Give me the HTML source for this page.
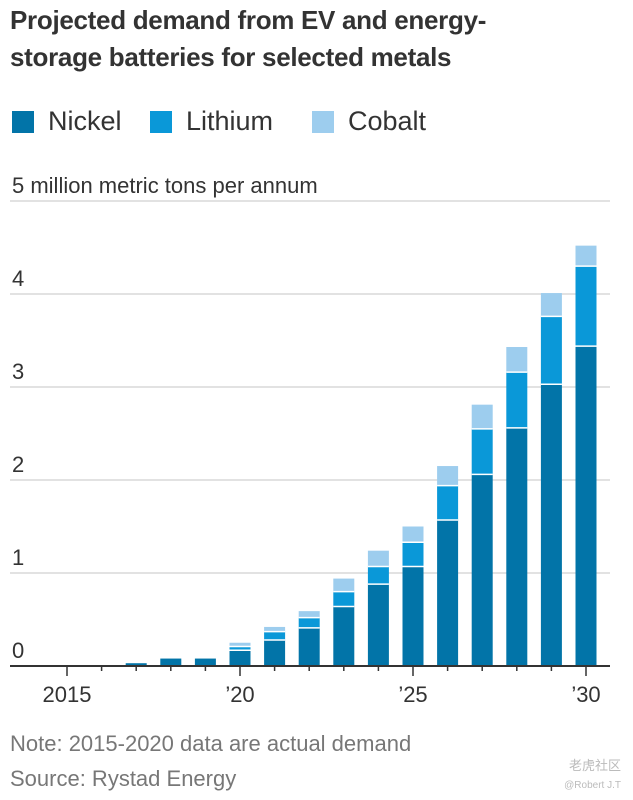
<!DOCTYPE html>
<html><head><meta charset="utf-8"><style>
body{margin:0;width:633px;height:800px;background:#fff;font-family:"Liberation Sans",sans-serif;overflow:hidden;position:relative}
.t{position:absolute;left:10px;top:2px;font-size:26px;font-weight:bold;line-height:37px;color:#333;letter-spacing:-0.3px}
.lg{position:absolute;top:106px;font-size:27px;color:#333;display:flex;align-items:center}
.sw{width:22px;height:22px;margin-right:14px}
.n{position:absolute;left:10px;font-size:22px;color:#777}
</style></head><body>
<div class="t">Projected demand from EV and energy-<br>storage batteries for selected metals</div>
<div class="lg" style="left:12px"><div class="sw" style="background:#0274a8"></div>Nickel</div>
<div class="lg" style="left:150px"><div class="sw" style="background:#0a98d8"></div>Lithium</div>
<div class="lg" style="left:312px"><div class="sw" style="background:#9dcdee"></div>Cobalt</div>
<svg id="c" width="633" height="720" style="position:absolute;left:0;top:0"></svg>
<div class="n" style="top:731px">Note: 2015-2020 data are actual demand</div>
<div class="n" style="top:766px">Source: Rystad Energy</div>
<div style="position:absolute;right:12px;top:755px;font-size:13px;color:#bbb">老虎社区</div>
<div style="position:absolute;right:12px;top:780px;font-size:10px;color:#bbb">@Robert J.T</div>
<script>
const years=[2015,2016,2017,2018,2019,2020,2021,2022,2023,2024,2025,2026,2027,2028,2029,2030];
const nickel=[0,0,0.03,0.08,0.08,0.17,0.28,0.41,0.64,0.88,1.07,1.57,2.06,2.56,3.03,3.44];
const lithium=[0,0,0,0,0,0.04,0.09,0.11,0.16,0.19,0.26,0.37,0.49,0.60,0.73,0.86];
const cobalt=[0,0,0,0,0,0.04,0.05,0.07,0.14,0.17,0.17,0.21,0.26,0.27,0.25,0.22];
const yTicks=[0,1,2,3,4,5];
const xLabels=[[2015,"2015"],[2020,"’20"],[2025,"’25"],[2030,"’30"]];
const svg=document.getElementById('c');const NS="http://www.w3.org/2000/svg";
const y=v=>666-v*93, x=yr=>67+(yr-2015)*34.6;
function mk(t,a,txt){const e=document.createElementNS(NS,t);for(const k in a)e.setAttribute(k,a[k]);if(txt!==undefined)e.textContent=txt;svg.appendChild(e);return e;}
yTicks.forEach(v=>{
 if(v>0){const g=mk('line',{x1:10,x2:610,y1:y(v),y2:y(v),stroke:'#d8d8d8','stroke-width':1.5});
 
 }
 const t=mk('text',{x:12,y:y(v)-8,'font-size':22,fill:'#333','font-family':'Liberation Sans'},v===5?'5 million metric tons per annum':String(v));
 
 
});
const cols=['#0274a8','#0a98d8','#9dcdee'];
years.forEach((yr,i)=>{
 let base=0;[nickel[i],lithium[i],cobalt[i]].forEach((v,k)=>{
  if(v<=0)return;const top=y(base+v),bot=y(base);
  const r=mk('rect',{x:x(yr)-10.5,y:top,width:21,height:Math.max(0,bot-top-(base>0?0:0)),fill:cols[k]});
  
  
  if(base>0){mk('line',{x1:x(yr)-10.5,x2:x(yr)+10.5,y1:bot,y2:bot,stroke:'#fff','stroke-width':1.5});}
  base+=v;});
 const tk=mk('line',{x1:x(yr),x2:x(yr),y1:666,y2:xLabels.some(l=>l[0]===yr)?676:671,stroke:'#333','stroke-width':1.5});
 
 
});
const ax=mk('line',{x1:10,x2:610,y1:666,y2:666,stroke:'#333','stroke-width':2});


xLabels.forEach(l=>{const t=mk('text',{x:x(l[0]),y:702,'font-size':22,fill:'#333','text-anchor':'middle','font-family':'Liberation Sans'},l[1]);
 
 });
</script>
</body></html>
